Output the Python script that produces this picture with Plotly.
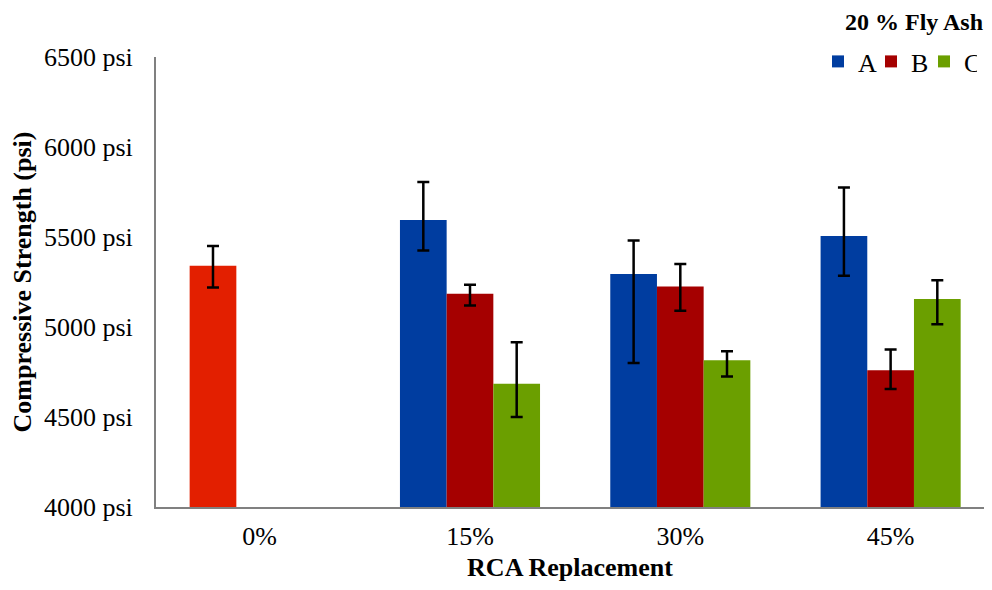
import plotly.graph_objects as go

categories = ["0%", "15%", "30%", "45%"]

# Control mix (0% RCA) shown in red
control_value = [5340, None, None, None]
control_err_plus = [110, 0, 0, 0]
control_err_minus = [120, 0, 0, 0]

series_a = [None, 5595, 5295, 5505]
a_err_plus = [0, 210, 185, 270]
a_err_minus = [0, 170, 495, 220]

series_b = [None, 5185, 5225, 4760]
b_err_plus = [0, 50, 125, 115]
b_err_minus = [0, 65, 135, 105]

series_c = [None, 4685, 4815, 5155]
c_err_plus = [0, 230, 50, 105]
c_err_minus = [0, 185, 90, 140]

y_ticks = [4000, 4500, 5000, 5500, 6000, 6500]
y_tick_labels = [f"{v} psi" for v in y_ticks]

FONT = "Liberation Serif, Times New Roman, serif"
BAR_W = 0.222
W, H = 976, 574

def err(plus, minus):
    return dict(type="data", symmetric=False, array=plus, arrayminus=minus,
                color="black", thickness=2.5, width=6)

fig = go.Figure()
fig.add_trace(go.Bar(x=categories, y=control_value, name="Control", showlegend=False,
                     marker=dict(color="#e31f00", line=dict(width=0)),
                     width=BAR_W, offset=-1.5 * BAR_W,
                     error_y=err(control_err_plus, control_err_minus)))
fig.add_trace(go.Bar(x=categories, y=series_a, name="A",
                     marker=dict(color="#003da0", line=dict(width=0)),
                     width=BAR_W, offset=-1.5 * BAR_W,
                     error_y=err(a_err_plus, a_err_minus)))
fig.add_trace(go.Bar(x=categories, y=series_b, name="B",
                     marker=dict(color="#a50000", line=dict(width=0)),
                     width=BAR_W, offset=-0.5 * BAR_W,
                     error_y=err(b_err_plus, b_err_minus)))
fig.add_trace(go.Bar(x=categories, y=series_c, name="C",
                     marker=dict(color="#6b9f00", line=dict(width=0)),
                     width=BAR_W, offset=0.5 * BAR_W,
                     error_y=err(c_err_plus, c_err_minus)))

fig.update_layout(
    width=W, height=H,
    barmode="overlay",
    plot_bgcolor="white", paper_bgcolor="white",
    font=dict(family=FONT, size=26, color="black"),
    margin=dict(l=148, r=0, t=49, b=75, autoexpand=False),
    legend=dict(
        orientation="h", xref="container", yref="container",
        x=810 / W, xanchor="left", y=1 - 30 / H, yanchor="top",
        font=dict(size=26), itemwidth=30, traceorder="normal",
        entrywidth=8, entrywidthmode="pixels",
        bgcolor="rgba(0,0,0,0)",
    ),
    annotations=[dict(
        text="<b>20 % Fly Ash</b>", xref="paper", yref="paper",
        x=1.0, xanchor="right", y=1 + 35 / 450, yanchor="middle",
        showarrow=False, font=dict(size=24), xshift=1,
    )],
    xaxis=dict(
        type="category", range=[-0.493, 3.444], automargin=False,
        showline=True, linecolor="#808080", linewidth=2,
        ticks="", showgrid=False, tickfont=dict(size=26), ticklabelstandoff=5,
        title=dict(text="<b>RCA Replacement</b>", font=dict(size=26), standoff=27),
    ),
    yaxis=dict(
        range=[4000, 6500], tickvals=y_ticks, ticktext=y_tick_labels, automargin=False,
        showline=True, linecolor="#808080", linewidth=2,
        ticks="", showgrid=False, zeroline=False, tickfont=dict(size=26),
        ticklabelstandoff=16,
        title=dict(text="<b>Compressive Strength (psi)</b>", font=dict(size=26), standoff=5),
    ),
)

fig.write_html("out.html")
